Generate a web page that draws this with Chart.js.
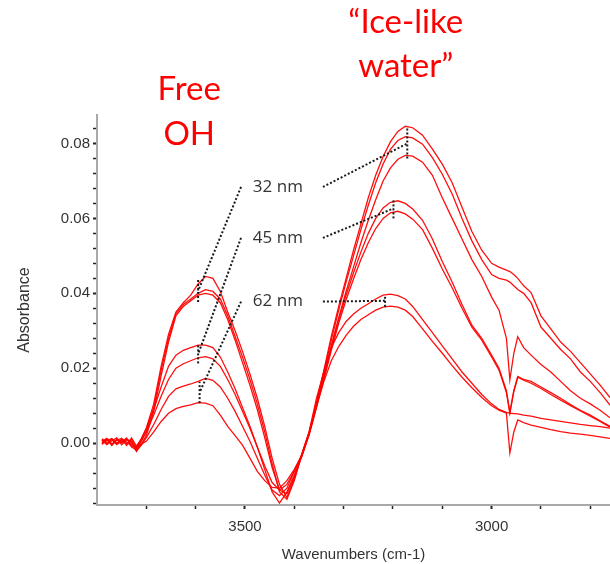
<!DOCTYPE html>
<html>
<head>
<meta charset="utf-8">
<title>Absorbance spectra</title>
<script src="https://cdn.jsdelivr.net/npm/chart.js@4.4.1/dist/chart.umd.min.js"></script>
<style>
    html, body { margin: 0; padding: 0; background: #fff; }
    #wrap { width: 610px; height: 564px; }
</style>
</head>
<body>
<div id="wrap"><canvas id="spectra" width="610" height="564"></canvas></div>
<script>
// Wavenumber grid (cm-1) shared by all spectra
const wavenumbers = [3790, 3780, 3770, 3760, 3750, 3740, 3730, 3720, 3710, 3700,
    3685, 3670, 3655, 3640, 3625, 3610, 3595, 3580, 3565, 3550, 3535, 3520, 3505, 3490, 3475, 3460, 3445, 3430, 3415, 3400, 3385,
    3370, 3355, 3340, 3325, 3310, 3295, 3280, 3265, 3250, 3235, 3220, 3205, 3190, 3175, 3160,
    3140, 3120, 3100, 3080, 3060, 3040, 3020, 3000,
    2985, 2970, 2963, 2955, 2947, 2935, 2920,
    2900, 2880, 2860, 2840, 2820, 2800, 2780, 2760];

// 32 nm films
const film32a = [0.0008, -0.0004, 0.0012, 0.0000, 0.0010, -0.0006, 0.0014, -0.0008, 0.0012, 0.0040,
    0.0105, 0.0205, 0.0290, 0.0350, 0.0375, 0.0395, 0.0425, 0.0445, 0.0440, 0.0405, 0.0350, 0.0300, 0.0245, 0.0185, 0.0120, 0.0045, -0.0040, -0.0110, -0.0145, -0.0095, -0.0030,
    0.0030, 0.0110, 0.0195, 0.0285, 0.0365, 0.0440, 0.0515, 0.0585, 0.0655, 0.0715, 0.0765, 0.0805, 0.0832, 0.0846, 0.0842,
    0.0822, 0.0785, 0.0745, 0.0695, 0.0630, 0.0565, 0.0515, 0.0480,
    0.0470, 0.0462, 0.0458, 0.0450, 0.0440, 0.0420, 0.0402,
    0.0340, 0.0305, 0.0270, 0.0245, 0.0215, 0.0185, 0.0155, 0.0122];
const film32b = [-0.0002, 0.0012, -0.0006, 0.0010, 0.0002, 0.0014, -0.0010, -0.0018, 0.0005, 0.0030,
    0.0095, 0.0195, 0.0280, 0.0345, 0.0370, 0.0385, 0.0400, 0.0410, 0.0405, 0.0385, 0.0340, 0.0285, 0.0230, 0.0170, 0.0105, 0.0030, -0.0055, -0.0130, -0.0150, -0.0100, -0.0032,
    0.0028, 0.0105, 0.0190, 0.0275, 0.0355, 0.0430, 0.0500, 0.0570, 0.0635, 0.0695, 0.0745, 0.0785, 0.0808, 0.0818, 0.0815,
    0.0798, 0.0762, 0.0718, 0.0665, 0.0600, 0.0540, 0.0490, 0.0450,
    0.0440, 0.0435, 0.0430, 0.0420, 0.0410, 0.0400, 0.0375,
    0.0310, 0.0280, 0.0250, 0.0225, 0.0190, 0.0165, 0.0135, 0.0102];
const film32c = [0.0010, -0.0003, 0.0006, 0.0014, -0.0004, 0.0009, 0.0002, -0.0022, -0.0002, 0.0020,
    0.0085, 0.0180, 0.0270, 0.0340, 0.0365, 0.0380, 0.0395, 0.0400, 0.0395, 0.0375, 0.0330, 0.0275, 0.0215, 0.0155, 0.0090, 0.0015, -0.0065, -0.0125, -0.0135, -0.0090, -0.0035,
    0.0025, 0.0100, 0.0180, 0.0260, 0.0335, 0.0405, 0.0470, 0.0535, 0.0595, 0.0650, 0.0700, 0.0735, 0.0758, 0.0768, 0.0766,
    0.0750, 0.0715, 0.0655, 0.0600, 0.0545, 0.0490, 0.0445, 0.0390,
    0.0355, 0.0280, 0.0169, 0.0240, 0.0284, 0.0255, 0.0235,
    0.0210, 0.0190, 0.0165, 0.0140, 0.0120, 0.0105, 0.0088, 0.0068];

// 45 nm films
const film45a = [0.0001, 0.0011, -0.0005, 0.0008, 0.0013, -0.0002, 0.0010, -0.0014, 0.0012, 0.0040,
    0.0090, 0.0150, 0.0205, 0.0235, 0.0248, 0.0255, 0.0262, 0.0262, 0.0255, 0.0230, 0.0190, 0.0145, 0.0095, 0.0045, -0.0010, -0.0070, -0.0130, -0.0160, -0.0130, -0.0085, -0.0035,
    0.0025, 0.0098, 0.0175, 0.0255, 0.0330, 0.0395, 0.0455, 0.0510, 0.0560, 0.0600, 0.0628, 0.0643, 0.0647, 0.0640, 0.0625,
    0.0595, 0.0545, 0.0485, 0.0430, 0.0370, 0.0315, 0.0280, 0.0235,
    0.0200, 0.0140, 0.0082, 0.0140, 0.0178, 0.0170, 0.0165,
    0.0150, 0.0135, 0.0120, 0.0103, 0.0088, 0.0075, 0.0060, 0.0045];
const film45b = [0.0012, 0.0002, 0.0010, -0.0004, 0.0006, 0.0012, -0.0003, -0.0012, 0.0008, 0.0030,
    0.0075, 0.0125, 0.0170, 0.0200, 0.0212, 0.0220, 0.0228, 0.0231, 0.0225, 0.0205, 0.0170, 0.0130, 0.0085, 0.0040, -0.0010, -0.0060, -0.0105, -0.0125, -0.0110, -0.0075, -0.0036,
    0.0022, 0.0095, 0.0170, 0.0248, 0.0320, 0.0383, 0.0438, 0.0490, 0.0535, 0.0573, 0.0600, 0.0615, 0.0619, 0.0612, 0.0598,
    0.0570, 0.0520, 0.0465, 0.0415, 0.0360, 0.0310, 0.0275, 0.0230,
    0.0195, 0.0135, 0.0080, 0.0138, 0.0176, 0.0168, 0.0160,
    0.0146, 0.0130, 0.0115, 0.0100, 0.0086, 0.0072, 0.0058, 0.0043];

// 62 nm films
const film62a = [0.0005, 0.0013, -0.0002, 0.0009, 0.0001, 0.0011, 0.0004, -0.0020, -0.0005, 0.0015,
    0.0050, 0.0090, 0.0125, 0.0145, 0.0152, 0.0158, 0.0165, 0.0173, 0.0168, 0.0150, 0.0120, 0.0085, 0.0045, 0.0005, -0.0040, -0.0085, -0.0125, -0.0140, -0.0120, -0.0075, -0.0030,
    0.0030, 0.0120, 0.0190, 0.0255, 0.0295, 0.0325, 0.0345, 0.0360, 0.0372, 0.0385, 0.0395, 0.0398, 0.0394, 0.0385, 0.0365,
    0.0330, 0.0295, 0.0260, 0.0225, 0.0190, 0.0160, 0.0130, 0.0105,
    0.0090, 0.0082, 0.0080, 0.0079, 0.0078, 0.0075, 0.0072,
    0.0066, 0.0062, 0.0058, 0.0054, 0.0050, 0.0047, 0.0044, 0.0040];
const film62b = [-0.0003, 0.0008, 0.0012, -0.0001, 0.0010, 0.0003, -0.0008, -0.0010, -0.0002, 0.0005,
    0.0030, 0.0058, 0.0080, 0.0092, 0.0098, 0.0102, 0.0108, 0.0107, 0.0100, 0.0075, 0.0045, 0.0020, -0.0005, -0.0040, -0.0075, -0.0100, -0.0118, -0.0120, -0.0100, -0.0070, -0.0033,
    0.0025, 0.0100, 0.0165, 0.0220, 0.0258, 0.0288, 0.0312, 0.0330, 0.0343, 0.0355, 0.0363, 0.0366, 0.0363, 0.0355, 0.0338,
    0.0305, 0.0272, 0.0240, 0.0207, 0.0176, 0.0148, 0.0122, 0.0100,
    0.0088, 0.0080, -0.0026, 0.0030, 0.0062, 0.0055, 0.0048,
    0.0042, 0.0036, 0.0031, 0.0027, 0.0024, 0.0021, 0.0017, 0.0013];

// Axis ticks
const absTicks = [-0.016, -0.012, -0.008, -0.004, 0, 0.004, 0.008, 0.012, 0.016, 0.02, 0.024, 0.028, 0.032,
    0.036, 0.04, 0.044, 0.048, 0.052, 0.056, 0.06, 0.064, 0.068, 0.072, 0.076, 0.08, 0.084];
const absLabels = [0, 0.02, 0.04, 0.06, 0.08];
const wnTicks = [3700, 3600, 3500, 3400, 3300, 3200, 3100, 3000, 2900, 2800];
const wnLabels = [3500, 3000];

// Thickness call-outs: label height, free OH peak marker [wn, lo, hi], ice-like peak marker [wn, lo, hi]
const thicknessLabels = ['32 nm', '45 nm', '62 nm'];
const labelLevels = [0.0684, 0.0548, 0.0378];
const freeOhMarks = [[3595, 0.0377, 0.0436], [3595, 0.0213, 0.0262], [3592, 0.0107, 0.0164]];
const iceMarks = [[3171, 0.0760, 0.0840], [3199, 0.0600, 0.0653], [3216, 0.0364, 0.0396]];

const spectra = [film32a, film32b, film32c, film45a, film45b, film62a, film62b];
const isLabel = (list, v) => list.some(l => Math.abs(l - v) < 1e-9);

const sansFont = '"Liberation Sans", Arial, sans-serif';

// Dotted leader lines, peak markers and band names
const calloutPlugin = {
    id: 'callouts',
    afterDatasetsDraw(chart) {
        const { ctx, scales: { x, y } } = chart;
        const px = wn => x.getPixelForValue(wn);
        const py = a => y.getPixelForValue(a);

        ctx.save();
        ctx.strokeStyle = '#1a1a1a';
        ctx.lineWidth = 2;
        ctx.setLineDash([2, 2]);
        const seg = (wn1, a1, wn2, a2) => {
            ctx.beginPath();
            ctx.moveTo(px(wn1), py(a1));
            ctx.lineTo(px(wn2), py(a2));
            ctx.stroke();
        };
        thicknessLabels.forEach((_, i) => {
            const [fw, flo, fhi] = freeOhMarks[i];
            const [iw, ilo, ihi] = iceMarks[i];
            seg(fw, flo, fw, fhi);
            seg(3508, labelLevels[i], fw, (flo + fhi) / 2);
            seg(iw, ilo, iw, ihi);
            seg(3342, labelLevels[i], iw, (ilo + ihi) / 2);
        });
        ctx.setLineDash([]);

        ctx.fillStyle = '#333';
        ctx.font = '17px "Open Sans", sans-serif';
        ctx.textAlign = 'left';
        ctx.textBaseline = 'middle';
        thicknessLabels.forEach((t, i) => ctx.fillText(t, px(3484), py(labelLevels[i])));

        ctx.fillStyle = '#ff0000';
        ctx.font = '33px Lato, sans-serif';
        ctx.textAlign = 'center';
        ctx.textBaseline = 'alphabetic';
        ctx.fillText('Free', px(3613), py(0.0916));
        ctx.fillText('OH', px(3613), py(0.0796));
        ctx.fillText('\u201CIce-like', px(3174), py(0.1094));
        ctx.fillText('water\u201D', px(3174), py(0.0977));
        ctx.restore();
    }
};

new Chart(document.getElementById('spectra'), {
    type: 'line',
    data: {
        datasets: spectra.map(s => ({
            data: s.map((a, i) => ({ x: wavenumbers[i], y: a })),
            borderColor: 'rgba(255, 0, 0, 0.95)',
            borderWidth: 1.3,
            pointRadius: 0,
            tension: 0,
            fill: false
        }))
    },
    options: {
        responsive: false,
        animation: false,
        layout: { padding: { top: 115, right: 0, bottom: 0, left: 0 } },
        plugins: {
            legend: { display: false },
            tooltip: { enabled: false }
        },
        scales: {
            x: {
                type: 'linear',
                reverse: true,
                min: 2760,
                max: 3800,
                afterBuildTicks: scale => { scale.ticks = wnTicks.map(v => ({ value: v })); },
                afterFit: scale => { scale.height = 59; },
                border: { display: true, color: '#a9a9a9', width: 2 },
                grid: {
                    drawOnChartArea: false,
                    drawTicks: true,
                    tickLength: 4,
                    tickColor: '#222',
                    tickWidth: c => isLabel(wnLabels, c.tick.value) ? 2 : 1.5
                },
                ticks: {
                    autoSkip: false,
                    maxRotation: 0,
                    padding: 9,
                    color: '#333',
                    font: { family: sansFont, size: 15 },
                    callback: v => isLabel(wnLabels, v) ? String(v) : ''
                },
                title: {
                    display: true,
                    text: 'Wavenumbers (cm-1)',
                    color: '#333',
                    font: { family: sansFont, size: 15 },
                    padding: { top: 0, bottom: 0 }
                }
            },
            y: {
                min: -0.0165,
                max: 0.0876,
                afterBuildTicks: scale => { scale.ticks = absTicks.map(v => ({ value: v })); },
                afterFit: scale => { scale.width = 97; },
                border: { display: true, color: '#a9a9a9', width: 2 },
                grid: {
                    drawOnChartArea: false,
                    drawTicks: true,
                    tickLength: 4,
                    tickColor: '#222',
                    tickWidth: c => isLabel(absLabels, c.tick.value) ? 2 : 1.5
                },
                ticks: {
                    autoSkip: false,
                    padding: 3,
                    color: '#333',
                    font: { family: sansFont, size: 15 },
                    callback: v => isLabel(absLabels, v) ? v.toFixed(2) : ''
                },
                title: {
                    display: true,
                    text: 'Absorbance',
                    color: '#333',
                    font: { family: sansFont, size: 16 },
                    padding: { top: 15, bottom: 0 }
                }
            }
        }
    },
    plugins: [calloutPlugin]
});
</script>
</body>
</html>
